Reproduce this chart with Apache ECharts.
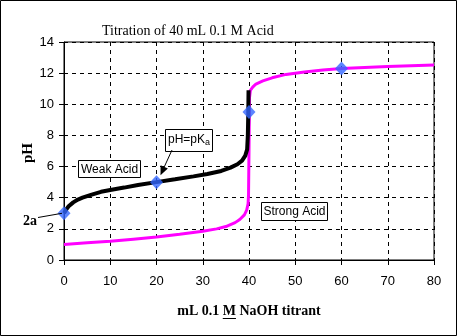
<!DOCTYPE html>
<html><head><meta charset="utf-8">
<script src="https://cdn.jsdelivr.net/npm/echarts@6/dist/echarts.min.js"></script>
<style>html,body{margin:0;padding:0;background:#fff}#c{width:458px;height:336px}</style>
</head><body><div id="c"></div>
<script>
// Strong acid (magenta) curve
const strongX = [0,5,10,15,20,25,30,33,35,37,38,39,39.5,39.8,39.9,40,40.1,40.3,40.8,41.5,43,45,48,52,56,60,65,70,75,80];
const strongY = [1.0,1.1,1.2,1.34,1.48,1.65,1.85,2.0,2.15,2.4,2.6,2.9,3.2,3.6,4.2,7.0,10.4,10.9,11.1,11.3,11.5,11.7,11.92,12.08,12.2,12.3,12.37,12.43,12.48,12.52];
// Weak acid (black) curve
const weakX = [0,0.5,1,2,3,4,6,8,10,13,16,20,24,28,31,34,36,37.5,38.5,39.2,39.6,39.75,39.85,39.9];
const weakY = [3.0,3.25,3.45,3.7,3.88,4.0,4.2,4.38,4.5,4.65,4.82,5.0,5.18,5.37,5.52,5.72,5.93,6.15,6.38,6.7,7.1,8.0,9.5,10.9];
// Marked points (diamonds)
const ptX = [0,20,40,60];
const ptY = [3,5,9.5,12.3];
// Axis ticks
const xTicks = {min:0, max:80, interval:10};
const yTicks = {min:0, max:14, interval:2};

const pair = (xs, ys) => xs.map((x, i) => [x, ys[i]]);
const chart = echarts.init(document.getElementById('c'), null, {renderer: 'canvas'});
const sans = 'Liberation Sans, Arial, sans-serif';
const serif = 'Liberation Serif, Times New Roman, serif';
const axisCommon = {
  type: 'value',
  axisLine: {show: true, lineStyle: {color: '#000', width: 1}},
  axisTick: {show: true, length: 5, inside: false, lineStyle: {color: '#000'}},
  splitLine: {show: true, lineStyle: {color: '#000', width: 1, type: [4, 4]}}
};
chart.setOption({
  animation: false,
  backgroundColor: '#fff',
  title: {text: 'Titration of 40 mL 0.1 M Acid', left: 97, top: 19,
    textStyle: {fontFamily: serif, fontSize: 14, fontWeight: 'normal', color: '#000'}},
  grid: {left: 64, top: 42, width: 370, height: 218, show: true, borderColor: '#000', borderWidth: 1, backgroundColor: 'transparent'},
  xAxis: Object.assign({}, axisCommon, xTicks, {
    axisLabel: {margin: 15, color: '#000', fontFamily: sans, fontSize: 13}
  }),
  yAxis: Object.assign({}, axisCommon, yTicks, {
    axisLabel: {margin: 10, color: '#000', fontFamily: sans, fontSize: 13}
  }),
  series: [
    {type: 'line', data: pair(strongX, strongY), showSymbol: false, smooth: false,
      lineStyle: {color: '#ff00ff', width: 3}, z: 2},
    {type: 'line', data: pair(weakX, weakY), showSymbol: false, smooth: false,
      lineStyle: {color: '#000', width: 4}, z: 3},
    {type: 'scatter', data: pair(ptX, ptY), symbol: 'diamond', symbolSize: [13, 14],
      itemStyle: {color: '#3366ff'}, z: 5}
  ]
});

// Annotations
const pKa = chart.convertToPixel({gridIndex: 0}, [ptX[1], ptY[1]]);
const p0 = chart.convertToPixel({gridIndex: 0}, [ptX[0], ptY[0]]);
const aStart = [172, 150];
const aTip = [pKa[0] + 4, pKa[1] - 7];
const dx = aTip[0] - aStart[0], dy = aTip[1] - aStart[1];
const L = Math.hypot(dx, dy), ux = dx / L, uy = dy / L;
const hl = 9, hw = 4;
const base = [aTip[0] - ux * hl, aTip[1] - uy * hl];
const head = [aTip, [base[0] - uy * hw, base[1] + ux * hw], [base[0] + uy * hw, base[1] - ux * hw]];

const xlabel = 'mL 0.1 M NaOH titrant';
const xfont = 'bold 14px ' + serif;
const cv = document.createElement('canvas').getContext('2d');
cv.font = xfont;
const totalW = cv.measureText(xlabel).width;
const cx = 249;
const startX = cx - totalW / 2;
const mStart = startX + cv.measureText('mL 0.1 ').width;
const mW = cv.measureText('M').width;

chart.setOption({
  graphic: [
    {type: 'rect', shape: {x: 0.5, y: 0.5, width: 456, height: 335}, style: {fill: 'none', stroke: '#000', lineWidth: 1}, z: 100},
    {type: 'text', x: 28, y: 153, rotation: Math.PI / 2,
      style: {text: 'pH', font: 'bold 15px ' + serif, fill: '#000', textAlign: 'center', textVerticalAlign: 'middle'}},
    {type: 'text', x: startX, y: 311,
      style: {text: xlabel, font: xfont, fill: '#000', textAlign: 'left', textVerticalAlign: 'middle'}},
    {type: 'line', shape: {x1: mStart, y1: 318.5, x2: mStart + mW, y2: 318.5}, style: {stroke: '#000', lineWidth: 1}},
    // Weak Acid box
    {type: 'rect', shape: {x: 78.5, y: 160.5, width: 62, height: 17}, style: {fill: '#fff', stroke: '#000', lineWidth: 1}, z: 10},
    {type: 'text', x: 109.5, y: 169.5, z: 11,
      style: {text: 'Weak Acid', font: '12px ' + sans, fill: '#000', textAlign: 'center', textVerticalAlign: 'middle'}},
    // Strong Acid box
    {type: 'rect', shape: {x: 261.5, y: 202.5, width: 66, height: 18}, style: {fill: '#fff', stroke: '#000', lineWidth: 1}, z: 10},
    {type: 'text', x: 294.5, y: 212, z: 11,
      style: {text: 'Strong Acid', font: '12px ' + sans, fill: '#000', textAlign: 'center', textVerticalAlign: 'middle'}},
    // pH=pKa box
    {type: 'rect', shape: {x: 165.5, y: 129.5, width: 47, height: 22}, style: {fill: '#fff', stroke: '#000', lineWidth: 1}, z: 10},
    {type: 'text', x: 189, y: 140, z: 11,
      style: {text: '{m|pH=pK}{s|a}', textAlign: 'center', textVerticalAlign: 'middle',
        rich: {m: {fontFamily: sans, fontSize: 12, fill: '#000', color: '#000'},
               s: {fontFamily: sans, fontSize: 9, color: '#000', padding: [6, 0, 0, 0]}}}},
    {type: 'line', shape: {x1: aStart[0], y1: aStart[1], x2: base[0], y2: base[1]}, style: {stroke: '#000', lineWidth: 1}, z: 12},
    {type: 'polygon', shape: {points: head}, style: {fill: '#000'}, z: 12},
    // 2a label
    {type: 'text', x: 30, y: 221,
      style: {text: '2a', font: 'bold 14px ' + serif, fill: '#000', textAlign: 'center', textVerticalAlign: 'middle'}},
    {type: 'line', shape: {x1: 38, y1: 217.5, x2: p0[0] - 2, y2: p0[1]}, style: {stroke: '#000', lineWidth: 1}, z: 12}
  ]
});
</script></body></html>
